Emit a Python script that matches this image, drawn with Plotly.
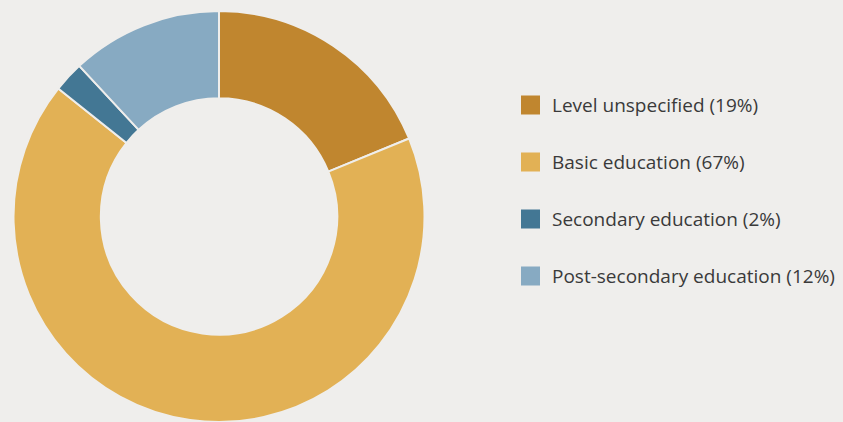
import plotly.graph_objects as go

labels = ["Level unspecified", "Basic education", "Secondary education", "Post-secondary education"]
values = [18.8, 66.9, 2.4, 11.9]
colors = ["#C0862F", "#E2B155", "#437794", "#87AAC2"]

BG = "#EFEEEC"
W, H = 843, 422
TOP = 11

fig = go.Figure()
fig.add_trace(go.Pie(
    labels=labels, values=values, sort=False, direction="clockwise", rotation=0,
    hole=0.575, textinfo="none", hoverinfo="label+percent",
    marker=dict(colors=colors, line=dict(color=BG, width=2)),
    domain=dict(x=[13.5 / W, 424.5 / W], y=[0, 1]),
    showlegend=False,
))

def py(pix):
    # pixel y from top of the page -> paper coordinate
    return 1 - (pix - TOP) / (H - TOP)

# legend drawn from the label/value/colour lists
total = sum(values)
shapes, annots = [], []
y0, gap, sq = 105, 57, 19
for i, (lab, val, col) in enumerate(zip(labels, values, colors)):
    yc = y0 + i * gap
    shapes.append(dict(type="rect", xref="paper", yref="paper",
                       x0=521 / W, x1=(521 + sq) / W,
                       y0=py(yc + sq / 2), y1=py(yc - sq / 2),
                       fillcolor=col, line=dict(width=0)))
    annots.append(dict(xref="paper", yref="paper", x=550 / W, y=py(yc),
                       xanchor="left", yanchor="middle", showarrow=False,
                       text=f"{lab} ({round(100 * val / total)}%)",
                       font=dict(size=19, color="#3a3a3a", family="Open Sans, sans-serif")))

fig.update_layout(
    width=W, height=H, margin=dict(l=0, r=0, t=TOP, b=0),
    paper_bgcolor=BG, plot_bgcolor=BG,
    shapes=shapes, annotations=annots,
)
fig.write_html("out.html", config={"displayModeBar": False},
               post_script="document.body.style.margin='0';document.body.style.background='%s';" % BG)
